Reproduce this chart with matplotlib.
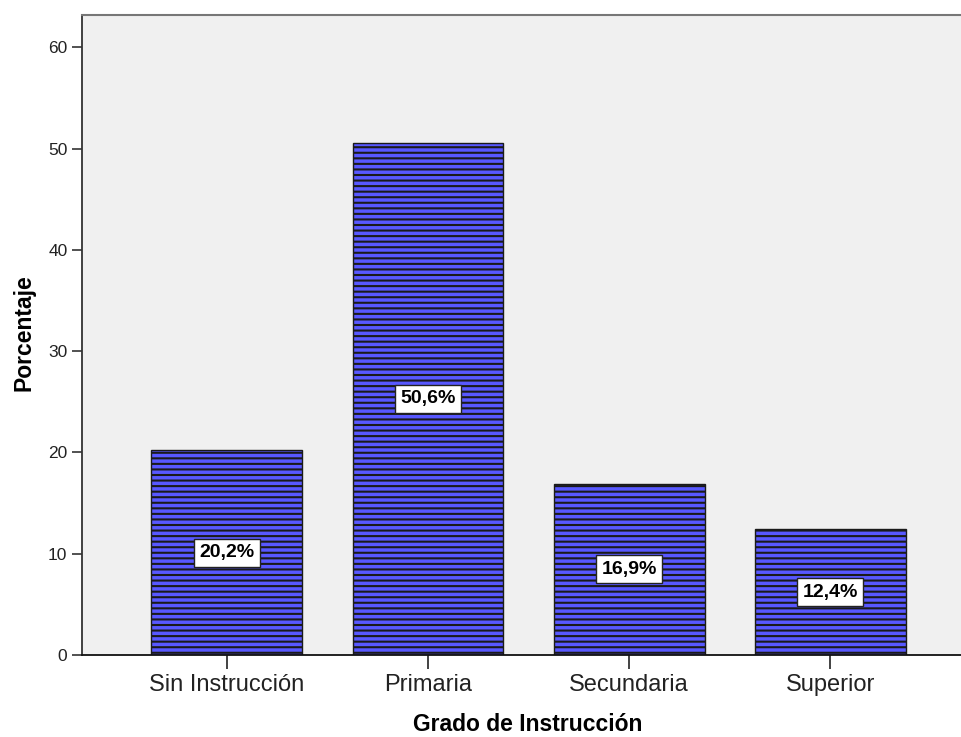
import matplotlib
matplotlib.use("Agg")
import matplotlib.pyplot as plt

categories = ["Sin Instrucción", "Primaria", "Secundaria", "Superior"]
values = [20.2, 50.6, 16.9, 12.4]
labels = ["20,2%", "50,6%", "16,9%", "12,4%"]
yticks = [0, 10, 20, 30, 40, 50, 60]

plt.rcParams['font.family'] = ['Liberation Sans', 'DejaVu Sans']
plt.rcParams['hatch.linewidth'] = 1.5
plt.rcParams['hatch.color'] = '#2a2a78'

fig = plt.figure(figsize=(9.61, 7.37), dpi=100)
ax = fig.add_axes([82/961, 82/737, 1 - 82/961, (655-15)/737])
ax.set_facecolor('#f0f0f0')

x = list(range(len(categories)))
bars = ax.bar(x, values, width=0.75, color='#5858ff', edgecolor='#1a1a1a',
              linewidth=1.0, hatch='---', zorder=2)

for xi, v, lab in zip(x, values, labels):
    ax.text(xi, v / 2, lab, ha='center', va='center', fontsize=14, fontweight='bold',
            family=['Liberation Sans Narrow', 'Liberation Sans', 'DejaVu Sans'],
            bbox=dict(boxstyle='square,pad=0.28', facecolor='white', edgecolor='#222222', linewidth=1.0),
            zorder=3)

ax.set_xlim(-0.72, 3.65)
ax.set_ylim(0, 63.2)
ax.set_yticks(yticks)
ax.set_xticks(x)
ax.set_xticklabels(categories, fontsize=17, color='#222222')
ax.tick_params(axis='y', labelsize=12.5, length=7, width=1.2, color='#333333', labelcolor='#222222')
ax.tick_params(axis='x', length=10, width=1.2, color='#222222', pad=4)

ax.spines['right'].set_visible(False)
ax.spines['top'].set_color('#777777')
ax.spines['top'].set_linewidth(1.5)
ax.spines['left'].set_color('#333333')
ax.spines['left'].set_linewidth(1.3)
ax.spines['bottom'].set_color('#111111')
ax.spines['bottom'].set_linewidth(1.3)

ax.set_xlabel("Grado de Instrucción", fontsize=16.5, fontweight='bold')
ax.set_ylabel("Porcentaje", fontsize=16.5, fontweight='bold')
ax.xaxis.set_label_coords(0.507, -0.090)
ax.yaxis.set_label_coords(-0.053, 0.503)

fig.savefig("out.png", dpi=100)
